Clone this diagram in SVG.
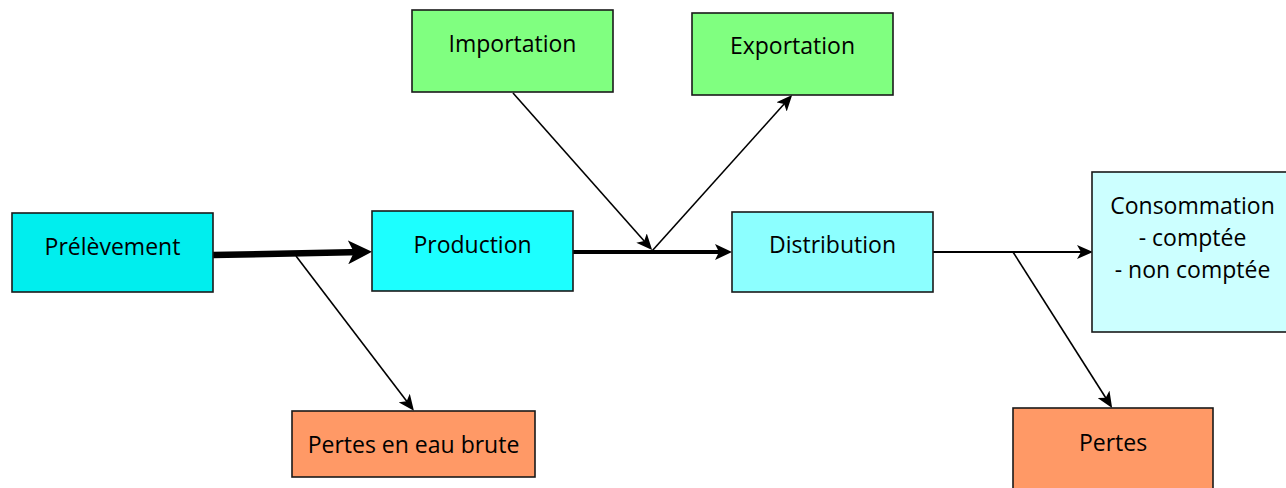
<svg xmlns="http://www.w3.org/2000/svg" width="1286" height="488" viewBox="0 0 1286 488">
<style>
.box{stroke:#1a1a1a;stroke-width:1.6}
.t{font-family:"Open Sans","Noto Sans",sans-serif;font-size:23px;fill:#000;text-anchor:middle}
.c{stroke:#000;fill:none}
</style>
<defs>
<marker id="aThin" markerUnits="userSpaceOnUse" markerWidth="16" markerHeight="14" viewBox="0 0 16 14" refX="12" refY="7" orient="auto"><path d="M0,0 L16,7 L0,14 L4,7 z" fill="#000"/></marker>
<marker id="aMed" markerUnits="userSpaceOnUse" markerWidth="17" markerHeight="16" viewBox="0 0 17 16" refX="12" refY="8" orient="auto"><path d="M0,0 L17,8 L0,16 L4,8 z" fill="#000"/></marker>
<marker id="aThick" markerUnits="userSpaceOnUse" markerWidth="24" markerHeight="24" viewBox="0 0 24 24" refX="14" refY="12" orient="auto"><path d="M0,0 L24,12 L0,24 L6,12 z" fill="#000"/></marker>
</defs>
<rect width="1286" height="488" fill="#fff"/>
<g id="connectors">
<line class="c" x1="213" y1="255" x2="362" y2="252" stroke-width="6.5" marker-end="url(#aThick)"/>
<line class="c" x1="296" y1="256" x2="411.5" y2="407.5" stroke-width="1.6" marker-end="url(#aThin)"/>
<line class="c" x1="573" y1="252" x2="727" y2="252" stroke-width="4" marker-end="url(#aMed)"/>
<line class="c" x1="513" y1="93" x2="649.5" y2="247" stroke-width="1.6" marker-end="url(#aThin)"/>
<line class="c" x1="652" y1="251" x2="789.5" y2="98" stroke-width="1.6" marker-end="url(#aThin)"/>
<line class="c" x1="933" y1="252" x2="1089" y2="252" stroke-width="1.8" marker-end="url(#aThin)"/>
<line class="c" x1="1013" y1="252" x2="1110" y2="404.5" stroke-width="1.6" marker-end="url(#aThin)"/>
</g>
<g id="prelevement"><rect class="box" x="12" y="213" width="201" height="79" fill="#00EEEE"/><text class="t" x="112.5" y="255">Prélèvement</text></g>
<g id="production"><rect class="box" x="372" y="211" width="201" height="80" fill="#1CFFFF"/><text class="t" x="472.5" y="253">Production</text></g>
<g id="distribution"><rect class="box" x="732" y="212" width="201" height="80" fill="#8CFFFF"/><text class="t" x="832.5" y="253">Distribution</text></g>
<g id="importation"><rect class="box" x="412" y="10" width="201" height="82" fill="#80FF80"/><text class="t" x="512.5" y="52">Importation</text></g>
<g id="exportation"><rect class="box" x="692" y="13" width="201" height="82" fill="#80FF80"/><text class="t" x="792.5" y="54">Exportation</text></g>
<g id="consommation"><rect class="box" x="1092" y="172" width="201" height="160" fill="#CCFFFF"/><text class="t" x="1192.5" y="214">Consommation</text><text class="t" x="1192.5" y="246">- comptée</text><text class="t" x="1192.5" y="278">- non comptée</text></g>
<g id="pertes-eau-brute"><rect class="box" x="292" y="411" width="243" height="66" fill="#FF9966"/><text class="t" x="413.5" y="453">Pertes en eau brute</text></g>
<g id="pertes"><rect class="box" x="1013" y="408" width="200" height="90" fill="#FF9966"/><text class="t" x="1113" y="451">Pertes</text></g>
</svg>
